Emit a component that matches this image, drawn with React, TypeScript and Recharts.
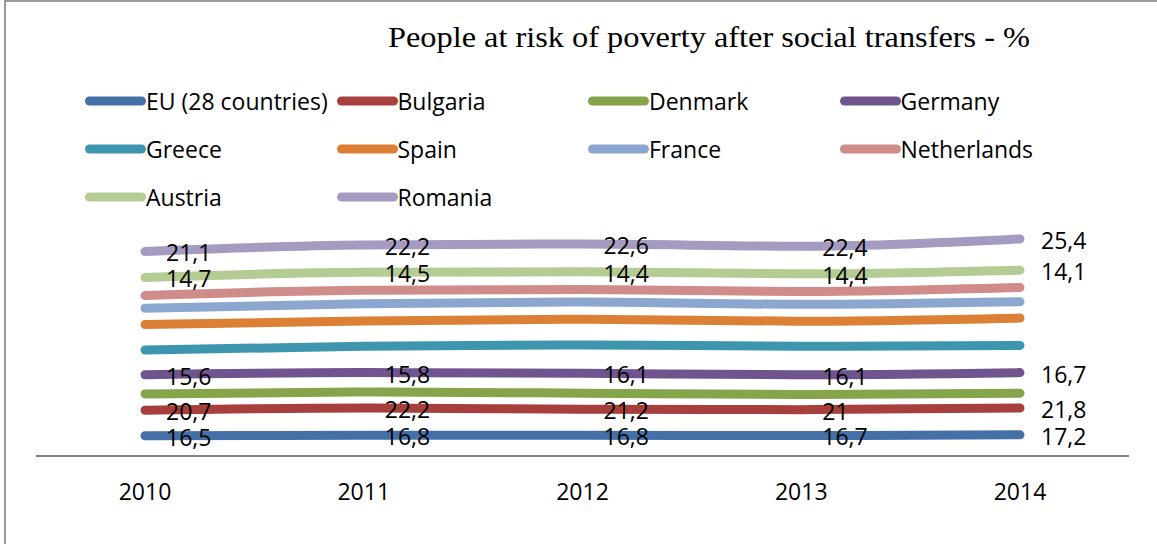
import { Area, AreaChart, Legend, XAxis, YAxis } from "recharts";

const years = ["2010", "2011", "2012", "2013", "2014"];

const euValues = [16.5, 16.8, 16.8, 16.7, 17.2];
const bulgariaValues = [20.7, 22.2, 21.2, 21, 21.8];
const denmarkValues = [13.3, 13.0, 13.1, 12.3, 12.1];
const germanyValues = [15.6, 15.8, 16.1, 16.1, 16.7];
const greeceValues = [20.1, 21.4, 23.1, 23.1, 22.1];
const spainValues = [20.7, 20.6, 20.8, 20.4, 22.2];
const franceValues = [13.3, 14.0, 14.1, 13.7, 13.3];
const netherlandsValues = [10.3, 11.0, 10.1, 10.4, 11.6];
const austriaValues = [14.7, 14.5, 14.4, 14.4, 14.1];
const romaniaValues = [21.1, 22.2, 22.6, 22.4, 25.4];

const TITLE = "People at risk of poverty after social transfers - %";
const FONT = "'Open Sans', sans-serif";

// stacked bottom to top, in legend order
const series = [
  { key: "eu", name: "EU (28 countries)", color: "#4470A7", values: euValues, labelled: true },
  { key: "bulgaria", name: "Bulgaria", color: "#A7403D", values: bulgariaValues, labelled: true },
  { key: "denmark", name: "Denmark", color: "#86A44A", values: denmarkValues, labelled: false },
  { key: "germany", name: "Germany", color: "#6F548E", values: germanyValues, labelled: true },
  { key: "greece", name: "Greece", color: "#3D96AE", values: greeceValues, labelled: false },
  { key: "spain", name: "Spain", color: "#DC8036", values: spainValues, labelled: false },
  { key: "france", name: "France", color: "#8CA7CF", values: franceValues, labelled: false },
  { key: "netherlands", name: "Netherlands", color: "#D08C8B", values: netherlandsValues, labelled: false },
  { key: "austria", name: "Austria", color: "#B4CB93", values: austriaValues, labelled: true },
  { key: "romania", name: "Romania", color: "#A59AC0", values: romaniaValues, labelled: true },
];

const data = years.map((year, i) => {
  const row: Record<string, string | number> = { year };
  series.forEach((s) => {
    row[s.key] = s.values[i];
  });
  return row;
});

const formatComma = (v: number) => String(v).replace(".", ",");

const valueLabel = (values: number[]) => (props: any) => {
  const { x, y, index } = props;
  if (x == null || y == null) return null;
  return (
    <text
      x={x + 21}
      y={y + 10}
      fontFamily={FONT}
      fontSize={23}
      fill="#000"
      textAnchor="start"
    >
      {formatComma(values[index])}
    </text>
  );
};

const YearTick = (props: any) => {
  const { x, y, payload } = props;
  return (
    <text x={x} y={y + 44} textAnchor="middle" fontFamily={FONT} fontSize={23} fill="#000">
      {payload.value}
    </text>
  );
};

const LegendGrid = () => (
  <div style={{ display: "flex", flexWrap: "wrap", width: 1006, marginLeft: 85 }}>
    {series.map((s) => (
      <div
        key={s.key}
        style={{ width: 251.5, height: 48, display: "flex", alignItems: "center" }}
      >
        <svg width={61} height={12} style={{ flex: "none" }}>
          <line x1={4.5} y1={6} x2={56.5} y2={6} stroke={s.color} strokeWidth={9} strokeLinecap="round" />
        </svg>
        <span style={{ fontFamily: FONT, fontSize: 23, color: "#000", whiteSpace: "nowrap" }}>{s.name}</span>
      </div>
    ))}
  </div>
);

export default function App() {
  return (
    <div style={{ position: "absolute", left: 0, top: 0, width: 1157, height: 544, overflow: "hidden", background: "#fff" }}>
      <div
        style={{
          position: "absolute",
          left: 4,
          top: 0,
          width: 1200,
          height: 600,
          borderLeft: "2px solid #9a9a9a",
          borderTop: "2px solid #9a9a9a",
          boxSizing: "border-box",
        }}
      />
      <svg width={1157} height={70} style={{ position: "absolute", left: 0, top: 0 }}>
        <text
          x={388}
          y={47}
          fontFamily="'Liberation Serif', 'Times New Roman', serif"
          fontSize={30}
          fill="#000"
          textLength={642}
          lengthAdjust="spacingAndGlyphs"
        >
          {TITLE}
        </text>
      </svg>
      <div style={{ position: "absolute", left: 0, top: 0 }}>
        <AreaChart width={1157} height={544} data={data} margin={{ top: 210, right: 28, bottom: 28, left: 36 }}>
          <XAxis
            dataKey="year"
            height={60}
            padding={{ left: 109, right: 109 }}
            axisLine={{ stroke: "#868686", strokeWidth: 2 }}
            tickLine={false}
            tickSize={0}
            tickMargin={0}
            tick={<YearTick />}
            interval={0}
          />
          <YAxis hide domain={[0, 200]} width={0} />
          <Legend
            verticalAlign="middle"
            align="center"
            content={() => <LegendGrid />}
            wrapperStyle={{ position: "absolute", top: 77, left: 0, width: 1157 }}
          />
          {series.map((s) => (
            <Area
              key={s.key}
              type="monotone"
              dataKey={s.key}
              name={s.name}
              stackId="stack"
              stroke={s.color}
              strokeWidth={9}
              strokeLinecap="round"
              strokeLinejoin="round"
              fill="none"
              fillOpacity={0}
              dot={false}
              activeDot={false}
              isAnimationActive={false}
              label={s.labelled ? valueLabel(s.values) : false}
            />
          ))}
        </AreaChart>
      </div>
    </div>
  );
}
